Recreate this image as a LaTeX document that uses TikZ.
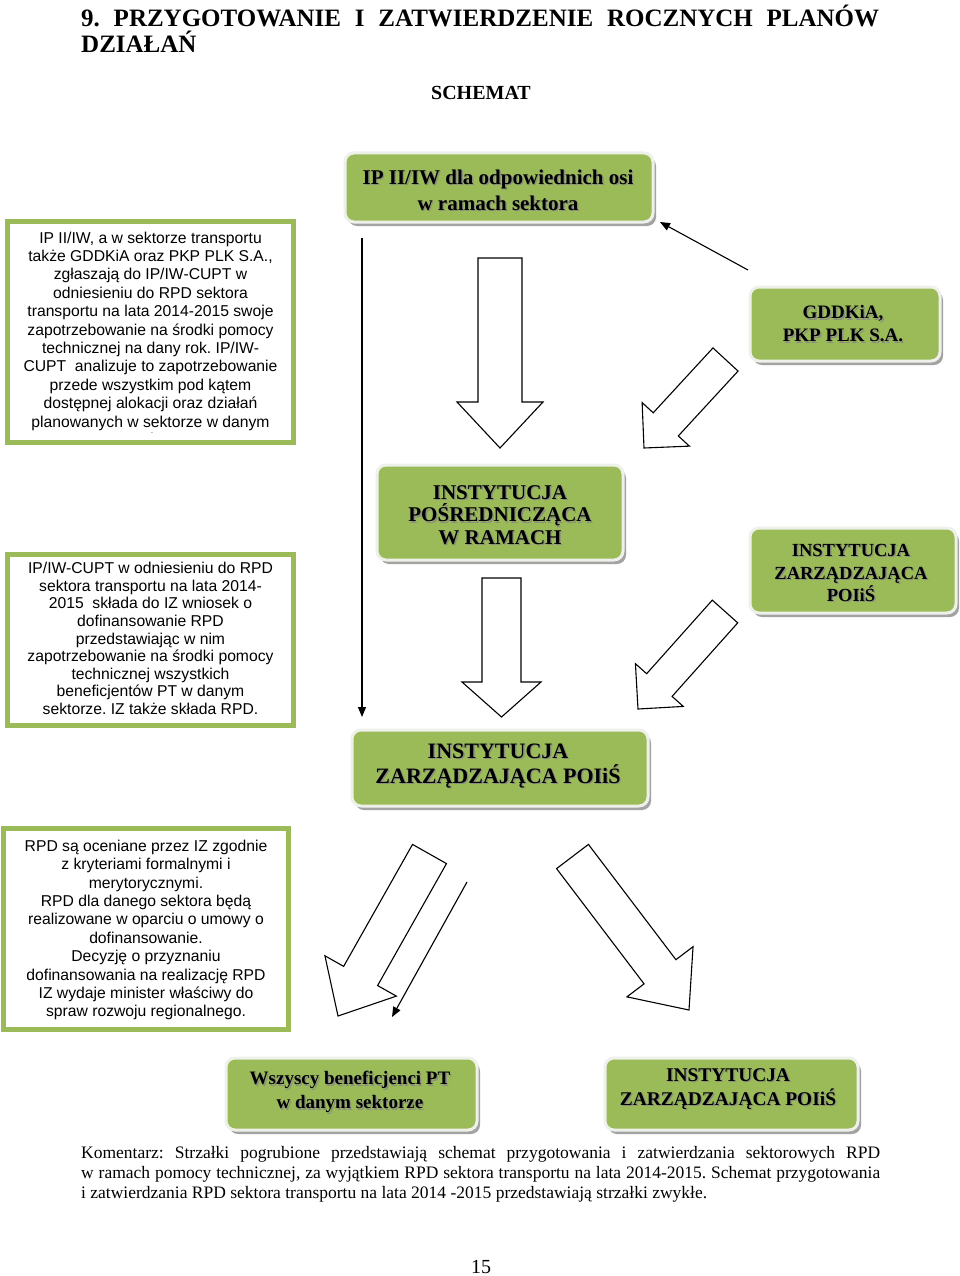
\documentclass[tikz,border=0pt]{standalone}
\usepackage{fontspec}
\setmainfont{Liberation Serif}
\newfontfamily\arialf{Liberation Sans}
\usetikzlibrary{shadows,calc,arrows.meta}
\definecolor{boxgreen}{HTML}{9BBB59}
\definecolor{halo}{HTML}{EEF0EA}
\definecolor{shadowc}{HTML}{A3A3A3}
\definecolor{txtshadow}{HTML}{8A8F80}
\tikzset{
  gbox/.style={draw=halo, line width=3pt, fill=boxgreen, rounded corners=9pt,
    drop shadow={shadow xshift=3pt, shadow yshift=-4pt, fill=shadowc, opacity=1},
    anchor=north west, inner sep=0pt},
  tbox/.style={draw=boxgreen, line width=5pt, fill=white},
  harrow/.style={draw=black, line width=1.1pt, fill=white, line join=miter},
  thinarrow/.style={draw=black, line width=1.1pt, -{Triangle[length=10pt,width=8pt]}},
  btxt/.style={align=center, inner sep=0pt},
  stxt/.style={align=center, inner sep=0pt, font=\arialf\fontsize{15.7}{18.4}\selectfont},
}
% green box: name, x1, y1, x2, y2 (fill region)
\newcommand\greenbox[5]{%
  \node[gbox, minimum width={#4-#2+3}, minimum height={#5-#3+3}] (#1) at (#2-1.5,#3-1.5) {};}
% box text with shadow: name, x, y, font, text
\newcommand\greentext[5]{%
  \node[btxt, text=txtshadow, font=#4] (#1-s) at (#2+1.4,#3+1.4) {#5};
  \node[btxt, text=black, font=#4] (#1-t) at (#2,#3) {#5};}
% hollow arrow: tail x,y; tip x,y; shaft width; head width; head length
\newcommand\hollowarrow[7]{%
  \pgfmathsetmacro\hdx{#3-(#1)}%
  \pgfmathsetmacro\hdy{#4-(#2)}%
  \pgfmathsetmacro\hlen{veclen(\hdx,\hdy)}%
  \pgfmathsetmacro\hux{(\hdx)/\hlen}%
  \pgfmathsetmacro\huy{(\hdy)/\hlen}%
  \pgfmathsetmacro\hbx{#1+(\hux)*(\hlen-#7)}%
  \pgfmathsetmacro\hby{#2+(\huy)*(\hlen-#7)}%
  \pgfmathsetmacro\hnx{-1*(\huy)}%
  \pgfmathsetmacro\hny{\hux}%
  \draw[harrow] ({#1+(\hnx)*#5/2},{#2+(\hny)*#5/2})
    -- ({\hbx+(\hnx)*#5/2},{\hby+(\hny)*#5/2})
    -- ({\hbx+(\hnx)*#6/2},{\hby+(\hny)*#6/2})
    -- (#3,#4)
    -- ({\hbx-(\hnx)*#6/2},{\hby-(\hny)*#6/2})
    -- ({\hbx-(\hnx)*#5/2},{\hby-(\hny)*#5/2})
    -- ({#1-(\hnx)*#5/2},{#2-(\hny)*#5/2}) -- cycle;}
\frenchspacing
\begin{document}
\begin{tikzpicture}[x=1pt,y=-1pt]
\useasboundingbox[fill=white] (0,0) rectangle (960,1276);

% title
\node[anchor=base west, inner sep=0pt, font=\fontsize{25}{30}\selectfont\bfseries] (title1) at (81,27)
  {\makebox[798pt][s]{9. PRZYGOTOWANIE I ZATWIERDZENIE ROCZNYCH PLANÓW}};
\node[anchor=base west, inner sep=0pt, font=\fontsize{25}{30}\selectfont\bfseries] (title2) at (81,53) {DZIAŁAŃ};
\node[anchor=base, inner sep=0pt, font=\fontsize{20}{24}\selectfont\bfseries] (schemat) at (481,100) {SCHEMAT};

% left text boxes
\draw[tbox] (7.5,221.5) rectangle (293.5,442.5);
\node[stxt] (l1) at (150.5,331) {IP II/IW, a w sektorze transportu\\
także GDDKiA oraz PKP PLK S.A.,\\
zgłaszają do IP/IW-CUPT w\\
odniesieniu do RPD sektora\\
transportu na lata 2014-2015 swoje\\
zapotrzebowanie na środki pomocy\\
technicznej na dany rok. IP/IW-\\
CUPT~ analizuje to zapotrzebowanie\\
przede wszystkim pod kątem\\
dostępnej alokacji oraz działań\\
planowanych w sektorze w danym};
\node[inner sep=0pt, font=\arialf\fontsize{7}{8}\selectfont] (l1dot) at (152,433) {.};

\draw[tbox] (7.5,554.5) rectangle (293.5,725.5);
\node[stxt, font=\arialf\fontsize{15.7}{17.6}\selectfont] (l2) at (150.5,638.5) {IP/IW-CUPT w odniesieniu do RPD\\
sektora transportu na lata 2014-\\
2015~ składa do IZ wniosek o\\
dofinansowanie RPD\\
przedstawiając w nim\\
zapotrzebowanie na środki pomocy\\
technicznej wszystkich\\
beneficjentów PT w danym\\
sektorze. IZ także składa RPD.};

\draw[tbox] (3.5,828.5) rectangle (288.5,1029.5);
\node[stxt] (l3) at (146,930) {RPD są oceniane przez IZ zgodnie\\
z kryteriami formalnymi i\\
merytorycznymi.\\
RPD dla danego sektora będą\\
realizowane w oparciu o umowy o\\
dofinansowanie.\\
Decyzję o przyznaniu\\
dofinansowania na realizację RPD\\
IZ wydaje minister właściwy do\\
spraw rozwoju regionalnego.};

% green boxes
\greenbox{A}{345}{153}{650}{219}
\greentext{A}{498}{190}{\fontsize{21}{26}\selectfont\bfseries}{IP II/IW dla odpowiednich osi\\w ramach sektora}
\greenbox{G}{750}{287}{937}{358}
\greentext{G}{843}{324}{\fontsize{19}{23}\selectfont\bfseries}{GDDKiA,\\PKP PLK S.A.}
\greenbox{B}{377}{465}{620}{557}
\greentext{B}{500}{515}{\fontsize{21}{22.5}\selectfont\bfseries}{INSTYTUCJA\\POŚREDNICZĄCA\\W RAMACH}
\greenbox{D}{750}{528}{953}{610}
\begin{scope}
\clip (740,520) rectangle (960,601);
\greentext{D}{851}{573}{\fontsize{18.5}{22.5}\selectfont\bfseries}{INSTYTUCJA\\ZARZĄDZAJĄCA\\POIiŚ}
\end{scope}
\greenbox{C}{352}{730}{645}{803}
\greentext{C}{498}{766}{\fontsize{22}{25}\selectfont\bfseries}{INSTYTUCJA\\ZARZĄDZAJĄCA POIiŚ}
\greenbox{E}{226}{1058}{474}{1127}
\greentext{E}{350}{1092}{\fontsize{19}{24}\selectfont\bfseries}{Wszyscy beneficjenci PT\\w danym sektorze}
\greenbox{F}{605}{1058}{855}{1127}
\greentext{F}{728}{1089}{\fontsize{19.4}{24}\selectfont\bfseries}{INSTYTUCJA\\ZARZĄDZAJĄCA POIiŚ}

% hollow (bold) arrows
\hollowarrow{500}{258}{500}{448}{44}{86}{46}
\hollowarrow{501.5}{578}{501.5}{717}{39}{79}{35}
\hollowarrow{725.5}{359.5}{644}{448}{34}{64}{32}
\hollowarrow{725}{611.5}{638}{709}{34}{64}{32}
\hollowarrow{429.5}{854}{338}{1016}{39}{82}{46}
\hollowarrow{572.5}{856.5}{689}{1010}{40}{83}{48}

% thin arrows
\coordinate (t1s) at (362,238);
\coordinate (t1e) at (362,717);
\draw[thinarrow] (t1s) -- (t1e);
\coordinate (t2s) at (748,270);
\coordinate (t2e) at (660,222);
\draw[thinarrow] (t2s) -- (t2e);
\coordinate (t3s) at (467,882);
\coordinate (t3e) at (392,1017);
\draw[thinarrow] (t3s) -- (t3e);

% comment
\node[anchor=base west, inner sep=0pt, font=\fontsize{17.5}{20}\selectfont] (k1) at (81,1158)
  {\makebox[799pt][s]{Komentarz: Strzałki pogrubione przedstawiają schemat przygotowania i zatwierdzania sektorowych RPD}};
\node[anchor=base west, inner sep=0pt, font=\fontsize{17.5}{20}\selectfont] (k2) at (81,1178)
  {\makebox[799pt][s]{w ramach pomocy technicznej, za wyjątkiem RPD sektora transportu na lata 2014-2015. Schemat przygotowania}};
\node[anchor=base west, inner sep=0pt, font=\fontsize{17.5}{20}\selectfont] (k3) at (81,1198)
  {i zatwierdzania RPD sektora transportu na lata 2014 -2015 przedstawiają strzałki zwykłe.};
\node[anchor=base, inner sep=0pt, font=\fontsize{20}{24}\selectfont] (pnum) at (481,1273) {15};
\end{tikzpicture}
\end{document}
